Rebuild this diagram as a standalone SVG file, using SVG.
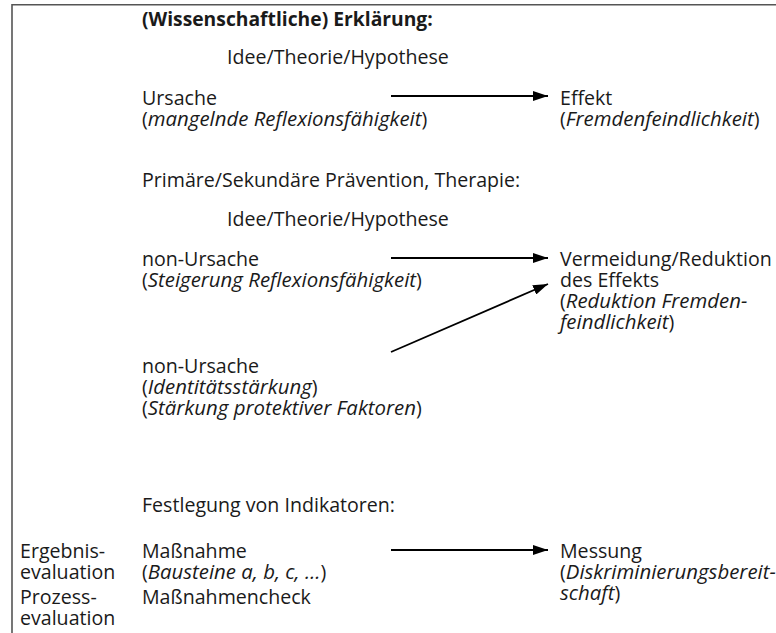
<svg xmlns="http://www.w3.org/2000/svg" width="776" height="633" viewBox="0 0 776 633">
<style>
text{font-family:"Open Sans","Noto Sans","DejaVu Sans",sans-serif;font-size:19.6px;fill:#1a1a1a}
.b{font-weight:bold;font-size:19.3px}
.i{font-style:italic;font-size:20.4px}
.frame{fill:none;stroke:#555;stroke-width:1.6}
.arr{stroke:#000;stroke-width:1.8;fill:none;marker-end:url(#ah)}
</style>
<defs>
<marker id="ah" viewBox="0 0 15 10" refX="15" refY="5" markerWidth="15" markerHeight="10" markerUnits="userSpaceOnUse" orient="auto">
<path d="M0,0 L15,5 L0,10 Z" fill="#000"/>
</marker>
</defs>
<path class="frame" d="M776,4.8 H12 V633"/>
<g id="explanation-title"><text class="b" x="142" y="26">(Wissenschaftliche) Erklärung:</text></g>
<g id="idea1"><text x="227" y="64">Idee/Theorie/Hypothese</text></g>
<g id="cause"><text x="142" y="105">Ursache</text><text x="142" y="126">(<tspan class="i">mangelnde Reflexionsfähigkeit</tspan>)</text></g>
<g id="effect"><text x="560" y="105">Effekt</text><text x="560" y="126">(<tspan class="i">Fremdenfeindlichkeit</tspan>)</text></g>
<g id="prevention-title"><text x="142" y="187">Primäre/Sekundäre Prävention, Therapie:</text></g>
<g id="idea2"><text x="227" y="226">Idee/Theorie/Hypothese</text></g>
<g id="noncause1"><text x="142" y="266">non-Ursache</text><text x="142" y="287">(<tspan class="i">Steigerung Reflexionsfähigkeit</tspan>)</text></g>
<g id="reduction"><text x="560" y="266">Vermeidung/Reduktion</text><text x="560" y="287">des Effekts</text><text x="560" y="308">(<tspan class="i">Reduktion Fremden-</tspan></text><text x="560" y="329"><tspan class="i">feindlichkeit</tspan>)</text></g>
<g id="noncause2"><text x="142" y="373">non-Ursache</text><text x="142" y="394">(<tspan class="i">Identitätsstärkung</tspan>)</text><text x="142" y="415">(<tspan class="i">Stärkung protektiver Faktoren</tspan>)</text></g>
<g id="indicators-title"><text x="142" y="512">Festlegung von Indikatoren:</text></g>
<g id="result-eval"><text x="20" y="558">Ergebnis-</text><text x="20" y="579">evaluation</text></g>
<g id="measure"><text x="142" y="558">Maßnahme</text><text x="142" y="579">(<tspan class="i">Bausteine a, b, c, …</tspan>)</text></g>
<g id="measurement"><text x="560" y="558">Messung</text><text x="560" y="579">(<tspan class="i">Diskriminierungsbereit-</tspan></text><text x="560" y="600"><tspan class="i">schaft</tspan>)</text></g>
<g id="process-eval"><text x="20" y="604">Prozess-</text><text x="20" y="625">evaluation</text></g>
<g id="measure-check"><text x="142" y="604">Maßnahmencheck</text></g>
<g id="connectors">
<line class="arr" x1="391" y1="96" x2="548" y2="96"/>
<line class="arr" x1="391" y1="258" x2="548" y2="258"/>
<line class="arr" x1="391" y1="352" x2="548" y2="284"/>
<line class="arr" x1="391" y1="550" x2="548" y2="550"/>
</g>
</svg>
